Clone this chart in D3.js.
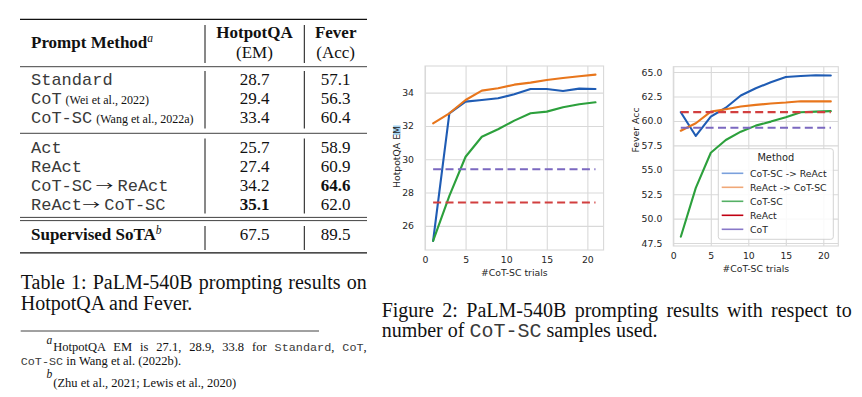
<!DOCTYPE html>
<html>
<head>
<meta charset="utf-8">
<script src="https://cdn.jsdelivr.net/npm/d3@7"></script>
<style>
  body { margin: 0; background: #fff; }
</style>
</head>
<body>
<script>
// ---- table data ----
const tableMethods = [["Standard"], ["CoT"], ["CoT-SC"], ["Act"], ["ReAct"], ["CoT-SC", "\u2192", "ReAct"], ["ReAct", "\u2192", "CoT-SC"]];
const tableCitations = ["", "(Wei et al., 2022)", "(Wang et al., 2022a)", "", "", "", ""];
const hotpotEM = [28.7, 29.4, 33.4, 25.7, 27.4, 34.2, 35.1];
const feverAcc = [57.1, 56.3, 60.4, 58.9, 60.9, 64.6, 62.0];
const sotaHotpot = 67.5;
const sotaFever = 89.5;

// ---- figure data ----
const trials = [1, 3, 5, 7, 9, 11, 13, 15, 17, 19, 21];
const methodNames = ["CoT-SC -> ReAct", "ReAct -> CoT-SC", "CoT-SC", "ReAct", "CoT"];
const hotpotCotScToReact = [25.1, 32.76, 33.46, 33.56, 33.66, 33.9, 34.22, 34.22, 34.1, 34.24, 34.22];
const hotpotReactToCotSc = [32.16, 32.76, 33.56, 34.12, 34.26, 34.48, 34.6, 34.76, 34.88, 34.98, 35.08];
const hotpotCotSc = [25.1, 27.8, 30.15, 31.35, 31.8, 32.32, 32.76, 32.86, 33.12, 33.3, 33.42];
const hotpotReact = 27.4;
const hotpotCot = 29.4;
const feverCotScToReact = [60.89, 58.46, 60.44, 61.35, 62.6, 63.35, 63.95, 64.5, 64.6, 64.68, 64.65];
const feverReactToCotSc = [59.0, 59.76, 60.95, 61.2, 61.47, 61.64, 61.78, 61.88, 62.02, 62.0, 62.0];
const feverCotSc = [48.15, 53.15, 56.74, 58.05, 58.9, 59.52, 59.93, 60.38, 60.89, 60.95, 61.0];
const feverReact = 60.9;
const feverCot = 59.3;

const SERIF = "'Liberation Serif', 'Times New Roman', serif";
const MONO = "'Liberation Mono', 'Courier New', monospace";
const SANS = "'DejaVu Sans', sans-serif";
const ARROW_FONT = "'Noto Sans CJK JP', 'DejaVu Sans', sans-serif";
const INK = "#111";
const MONO_INK = "#3a3a3a"; // typewriter font in the source is thin, lighten ours a bit

const svg = d3.select("body").append("svg")
    .attr("width", 862).attr("height", 397)
    .style("background", "#fff");

// stretch the spaces of a line so it fills the given width (justified text)
function justify(sel, width) {
  const n = sel.node();
  const natural = n.getComputedTextLength();
  const spaces = (n.textContent.match(/ /g) || []).length;
  if (spaces) sel.attr("word-spacing", (width - natural) / spaces);
}

// ================= TABLE =================
const tb = svg.append("g");

function rule(y, w) {
  tb.append("line").attr("x1", 20).attr("x2", 367).attr("y1", y).attr("y2", y)
    .attr("stroke", INK).attr("stroke-width", w);
}
rule(19.3, 1.3);
rule(66.7, 0.8);
rule(133.3, 0.8);
rule(217.4, 0.8);
rule(220.6, 0.8);
rule(252.8, 1.3);

[[25, 63], [71, 128.5], [138.5, 213.5], [226, 250]].forEach(([a, b]) => {
  [205, 304.3].forEach(x => {
    tb.append("line").attr("x1", x).attr("x2", x).attr("y1", a).attr("y2", b)
      .attr("stroke", INK).attr("stroke-width", 1);
  });
});

const colHotpot = 254.5, colFever = 335.7;

// header
const hdr = tb.append("text").attr("x", 31).attr("y", 47.5)
    .attr("font-family", SERIF).attr("font-size", 17).attr("font-weight", "bold").attr("fill", INK);
hdr.append("tspan").text("Prompt Method");
hdr.append("tspan").attr("dy", -6).attr("font-size", 11.5).attr("font-style", "italic").attr("font-weight", "normal").text("a");

[[colHotpot, "HotpotQA", "(EM)"], [colFever, "Fever", "(Acc)"]].forEach(([cx, t1, t2]) => {
  tb.append("text").attr("x", cx).attr("y", 38.3).attr("text-anchor", "middle")
    .attr("font-family", SERIF).attr("font-size", 17).attr("font-weight", "bold").attr("fill", INK).text(t1);
  tb.append("text").attr("x", cx).attr("y", 57.5).attr("text-anchor", "middle")
    .attr("font-family", SERIF).attr("font-size", 17).attr("fill", INK).text(t2);
});

const bestHotpot = d3.maxIndex(hotpotEM);
const bestFever = d3.maxIndex(feverAcc);

tableMethods.forEach((parts, i) => {
  const y = i < 3 ? 85 + 19 * i : 152.5 + 19 * (i - 3);
  let cursor = 31;
  parts.forEach((p, j) => {
    if (j % 2) {
      // thin math arrow, stretched sideways; "CoT-SC -> ReAct" has a space before it
      const gap = i === 5 ? 3.5 : 0.5;
      const a = tb.append("text")
          .attr("transform", `translate(${cursor + gap},${y}) scale(1.4,1)`)
          .attr("font-family", ARROW_FONT).attr("font-size", 12.5).attr("fill", INK).text(p);
      cursor += gap + a.node().getComputedTextLength() * 1.4 + 4.3;
    } else {
      const t = tb.append("text").attr("x", cursor).attr("y", y)
          .attr("font-family", MONO).attr("font-size", 17).attr("fill", MONO_INK).text(p);
      cursor += t.node().getComputedTextLength();
      if (j === 0 && tableCitations[i]) {
        t.append("tspan").attr("dx", 4).attr("font-family", SERIF).attr("font-size", 12)
          .attr("fill", INK).text(tableCitations[i]);
      }
    }
  });
  tb.append("text").attr("x", colHotpot).attr("y", y).attr("text-anchor", "middle")
    .attr("font-family", SERIF).attr("font-size", 17).attr("fill", INK)
    .attr("font-weight", i === bestHotpot ? "bold" : "normal")
    .text(hotpotEM[i].toFixed(1));
  tb.append("text").attr("x", colFever).attr("y", y).attr("text-anchor", "middle")
    .attr("font-family", SERIF).attr("font-size", 17).attr("fill", INK)
    .attr("font-weight", i === bestFever ? "bold" : "normal")
    .text(feverAcc[i].toFixed(1));
});

const sota = tb.append("text").attr("x", 31).attr("y", 240.3)
    .attr("font-family", SERIF).attr("font-size", 17).attr("font-weight", "bold").attr("fill", INK);
sota.append("tspan").text("Supervised SoTA");
sota.append("tspan").attr("dy", -6).attr("font-size", 11.5).attr("font-style", "italic").attr("font-weight", "normal").text("b");
tb.append("text").attr("x", colHotpot).attr("y", 240.3).attr("text-anchor", "middle")
  .attr("font-family", SERIF).attr("font-size", 17).attr("fill", INK).text(sotaHotpot.toFixed(1));
tb.append("text").attr("x", colFever).attr("y", 240.3).attr("text-anchor", "middle")
  .attr("font-family", SERIF).attr("font-size", 17).attr("fill", INK).text(sotaFever.toFixed(1));

// table caption
const cap1 = svg.append("text").attr("x", 20.7).attr("y", 289.3)
    .attr("font-family", SERIF).attr("font-size", 20).attr("fill", INK)
    .text("Table 1: PaLM-540B prompting results on");
justify(cap1, 346);
svg.append("text").attr("x", 20.7).attr("y", 310)
  .attr("font-family", SERIF).attr("font-size", 20).attr("fill", INK)
  .text("HotpotQA and Fever.");

// footnotes
svg.append("line").attr("x1", 20.7).attr("x2", 319).attr("y1", 331).attr("y2", 331)
  .attr("stroke", INK).attr("stroke-width", 0.8);
svg.append("text").attr("x", 46.5).attr("y", 344).attr("font-family", SERIF)
  .attr("font-size", 11.5).attr("font-style", "italic").attr("fill", INK).text("a");
const fn1 = svg.append("text").attr("x", 53.3).attr("y", 350.5)
    .attr("font-family", SERIF).attr("font-size", 12.5).attr("fill", INK);
[["HotpotQA EM is 27.1, 28.9, 33.8 for ", SERIF], ["Standard", MONO], [", ", SERIF], ["CoT", MONO], [",", SERIF]]
  .forEach(([s, f]) => fn1.append("tspan").attr("font-family", f)
    .attr("font-size", f === MONO ? 11.8 : 12.5).attr("fill", f === MONO ? MONO_INK : INK).text(s));
justify(fn1, 313.4);
const fn2 = svg.append("text").attr("x", 20.7).attr("y", 365)
    .attr("font-family", SERIF).attr("font-size", 12.5).attr("fill", INK);
fn2.append("tspan").attr("font-family", MONO).attr("font-size", 11.8).attr("fill", MONO_INK).text("CoT-SC");
fn2.append("tspan").text(" in Wang et al. (2022b).");
svg.append("text").attr("x", 46.5).attr("y", 378.3).attr("font-family", SERIF)
  .attr("font-size", 11.5).attr("font-style", "italic").attr("fill", INK).text("b");
svg.append("text").attr("x", 53.3).attr("y", 386.5)
  .attr("font-family", SERIF).attr("font-size", 12.5).attr("fill", INK)
  .text("(Zhu et al., 2021; Lewis et al., 2020)");

// figure caption
const fc1 = svg.append("text").attr("x", 381.7).attr("y", 316.7)
    .attr("font-family", SERIF).attr("font-size", 20).attr("fill", INK)
    .text("Figure 2: PaLM-540B prompting results with respect to");
justify(fc1, 470);
const fc2 = svg.append("text").attr("x", 381.7).attr("y", 336.7)
    .attr("font-family", SERIF).attr("font-size", 20).attr("fill", INK);
fc2.append("tspan").text("number of ");
fc2.append("tspan").attr("font-family", MONO).attr("fill", MONO_INK).text("CoT-SC");
fc2.append("tspan").text(" samples used.");

// ================= CHARTS =================
const lineColors = ["#1f5cb4", "#e8761c", "#2ca03c", "#d23f3f", "#7b68c0"];
const legendColors = ["#7aa0dc", "#f0a878", "#55b065", "#c00012", "#8878c8"];
const GRID = "#d9d9d9";
const TXT = "#262626";

function panel(cfg) {
  const x = d3.scaleLinear().domain([0, 22]).range([cfg.left, cfg.right]);
  const y = d3.scaleLinear().domain(cfg.yDomain).range([cfg.bottom, cfg.top]);
  const g = svg.append("g");

  const xa = g.append("g").attr("transform", `translate(0,${cfg.bottom})`)
      .call(d3.axisBottom(x).tickValues([0, 5, 10, 15, 20]).tickSize(-(cfg.bottom - cfg.top)).tickPadding(6.7));
  const ya = g.append("g").attr("transform", `translate(${cfg.left},0)`)
      .call(d3.axisLeft(y).tickValues(cfg.yTicks).tickFormat(cfg.fmt).tickSize(-(cfg.right - cfg.left)).tickPadding(11));
  [xa, ya].forEach(a => {
    a.select(".domain").remove();
    a.selectAll("line").attr("stroke", GRID).attr("stroke-width", 1.1);
    a.selectAll("text").attr("fill", TXT).attr("font-family", SANS).attr("font-size", 9.3);
  });
  g.append("rect").attr("x", cfg.left).attr("y", cfg.top)
    .attr("width", cfg.right - cfg.left).attr("height", cfg.bottom - cfg.top)
    .attr("fill", "none").attr("stroke", GRID).attr("stroke-width", 1.1);

  const line = d3.line().x(d => x(d[0])).y(d => y(d[1]));
  cfg.series.forEach((vals, i) => {
    g.append("path").datum(trials.map((t, k) => [t, vals[k]]))
      .attr("d", line).attr("fill", "none").attr("stroke", lineColors[i])
      .attr("stroke-width", 2.1).attr("stroke-linejoin", "round").attr("stroke-linecap", "round");
  });
  const ext = d3.extent(trials);
  cfg.refs.forEach((v, i) => {
    g.append("path").datum(ext.map(t => [t, v]))
      .attr("d", line).attr("fill", "none").attr("stroke", lineColors[3 + i])
      .attr("stroke-width", 2.1).attr("stroke-dasharray", "8,4.4");
  });

  g.append("text").attr("x", (cfg.left + cfg.right) / 2).attr("y", cfg.bottom + 25.5)
    .attr("text-anchor", "middle").attr("font-family", SANS).attr("font-size", 9.3).attr("fill", TXT)
    .text("#CoT-SC trials");

  const yl = g.append("text")
      .attr("transform", `translate(${cfg.ylabelX},${cfg.ylabelY}) rotate(-90)`)
      .attr("text-anchor", "middle").attr("font-family", SANS).attr("font-size", 9.3).attr("fill", TXT)
      .text(cfg.ylabel);

  if (cfg.highlight) {
    // light-blue selection mark over "EM" in the source picture
    const n = yl.node();
    const total = n.getComputedTextLength();
    const start = n.getSubStringLength(0, cfg.ylabel.length - 1);
    g.insert("rect", () => n).attr("x", cfg.ylabelX - 6.8).attr("y", cfg.ylabelY - total / 2 - 0.5)
      .attr("width", 7.4).attr("height", total - start + 1.5)
      .attr("fill", "#a6d3f0");
  }

  if (cfg.legend) {
    const lg = g.append("g");
    lg.append("rect").attr("x", 718.3).attr("y", 148.7).attr("width", 115).attr("height", 90.6)
      .attr("rx", 2.5).attr("fill", "#fff").attr("fill-opacity", 0.85)
      .attr("stroke", "#cfcfcf").attr("stroke-width", 0.9);
    lg.append("text").attr("x", 775.8).attr("y", 157.3).attr("dy", "0.35em")
      .attr("text-anchor", "middle").attr("font-family", SANS).attr("font-size", 9.8).attr("fill", TXT)
      .text("Method");
    methodNames.forEach((name, i) => {
      const yy = 173.3 + 14 * i;
      lg.append("line").attr("x1", 721.7).attr("x2", 743.3).attr("y1", yy).attr("y2", yy)
        .attr("stroke", legendColors[i]).attr("stroke-width", 1.6);
      lg.append("text").attr("x", 750).attr("y", yy).attr("dy", "0.35em")
        .attr("font-family", SANS).attr("font-size", 9.3).attr("fill", TXT).text(name);
    });
  }
}

panel({
  left: 425, right: 603.6, top: 66, bottom: 250,
  yDomain: [24.55, 35.6], yTicks: [26, 28, 30, 32, 34], fmt: d3.format("d"),
  series: [hotpotCotScToReact, hotpotReactToCotSc, hotpotCotSc],
  refs: [hotpotReact, hotpotCot],
  ylabel: "HotpotQA EM", ylabelX: 400, ylabelY: 157, highlight: true
});

panel({
  left: 673.3, right: 838.3, top: 66.7, bottom: 246,
  yDomain: [47.2, 65.55], yTicks: [47.5, 50, 52.5, 55, 57.5, 60, 62.5, 65], fmt: d3.format(".1f"),
  series: [feverCotScToReact, feverReactToCotSc, feverCotSc],
  refs: [feverReact, feverCot],
  ylabel: "Fever Acc", ylabelX: 638.5, ylabelY: 130, legend: true
});
</script>
</body>
</html>
